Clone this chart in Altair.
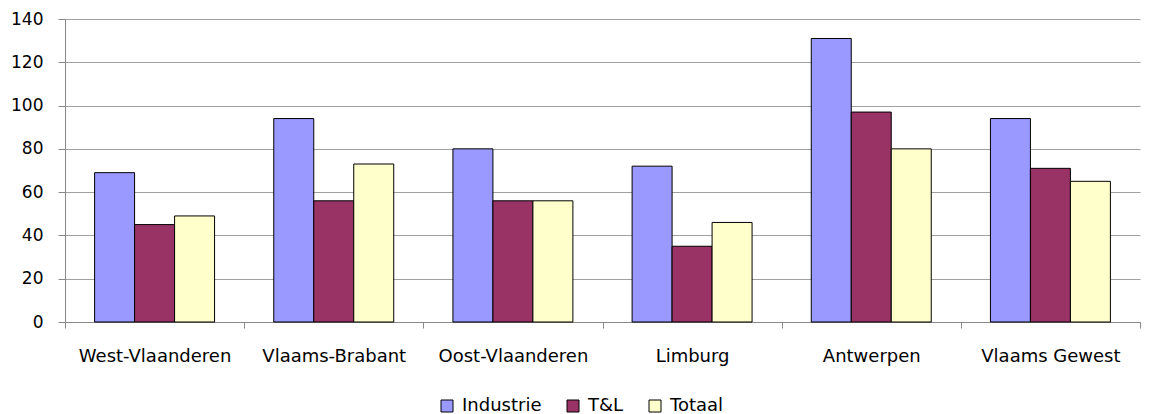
import altair as alt
import pandas as pd

regions = ["West-Vlaanderen", "Vlaams-Brabant", "Oost-Vlaanderen", "Limburg", "Antwerpen", "Vlaams Gewest"]
series = ["Industrie", "T&L", "Totaal"]
industrie = [69, 94, 80, 72, 131, 94]
tl = [45, 56, 56, 35, 97, 71]
totaal = [49, 73, 56, 46, 80, 65]
colors = ["#9999FF", "#993366", "#FFFFCC"]

rows = []
for i, r in enumerate(regions):
    for s, vals in zip(series, [industrie, tl, totaal]):
        rows.append({"regio": r, "reeks": s, "waarde": vals[i]})
df = pd.DataFrame(rows)

FONT = "DejaVu Sans"

chart = alt.Chart(df).mark_bar(stroke="black", strokeWidth=1).encode(
    x=alt.X("regio:N", sort=regions, title=None,
            scale=alt.Scale(paddingInner=0, paddingOuter=0),
            axis=alt.Axis(labelAngle=0, tickBand="extent", labelPadding=19, tickSize=6,
                          tickColor="#888888", domainColor="#888888", labelFontSize=18,
                          labelFont=FONT, labelColor="black", grid=False)),
    xOffset=alt.XOffset("reeks:N", sort=series,
                        scale=alt.Scale(paddingInner=0, paddingOuter=0.74)),
    y=alt.Y("waarde:Q", title=None,
            scale=alt.Scale(domain=[0, 140]),
            axis=alt.Axis(values=list(range(0, 141, 20)), tickSize=7, labelPadding=15,
                          tickColor="#888888", domainColor="#888888", gridColor="#A0A0A0",
                          labelFontSize=17, labelFont=FONT, labelColor="black")),
    color=alt.Color("reeks:N", sort=series, title=None,
                    scale=alt.Scale(domain=series, range=colors),
                    legend=alt.Legend(orient="none", legendX=373, legendY=378, direction="horizontal",
                                      symbolType="square", symbolSize=144, symbolStrokeColor="black",
                                      symbolStrokeWidth=1, labelFontSize=18, labelFont=FONT,
                                      labelColor="black", columnPadding=22, labelOffset=6)),
).properties(
    width=1075, height=303,
    padding={"left": 57, "top": 11, "right": 3, "bottom": 92},
    autosize=alt.AutoSizeParams(type="none"),
).configure_view(stroke=None)

chart.save("out.html", embed_options={"renderer": "svg", "actions": False})
